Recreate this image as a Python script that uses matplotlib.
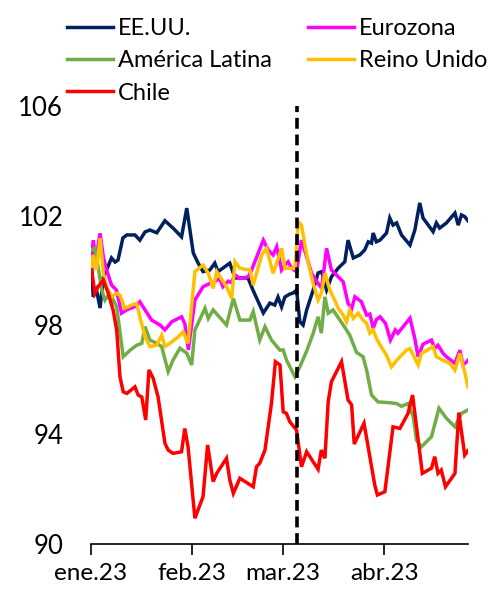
import numpy as np
import pandas as pd
import matplotlib
matplotlib.use("Agg")
import matplotlib.pyplot as plt

plt.rcParams["font.family"] = ["Lato", "DejaVu Sans"]

# Data: days since 2023-01-01 and index values
usa_days = [0.2, 0.7, 1.7, 2.8, 3.8, 4.8, 6.3, 7.4, 8.3, 9.8, 11, 13.5, 15, 16.6, 18.1, 20.2, 22.7, 25.2,
            27.8, 29.4, 31.4, 32.9, 34.4, 36.5, 38, 39, 42.6, 44.2, 48.2, 49.7, 50.8, 52.9, 54.9, 56.4,
            57.4, 58.5, 59.5, 61, 62.1, 63.1, 64.1, 65.1, 66.2, 68.2, 69.7, 70.8, 72.3, 73.8, 75.9, 77.9,
            78.9, 80.5, 82.5, 84, 85.1, 86.1, 86.6, 87.6, 88.7, 90.7, 91.7, 92.7, 93.8, 95.3, 97.9, 99.4,
            100.9, 101.9, 105, 106, 107, 109.1, 111.7, 112.7, 113.7, 114.7, 115.7]
usa_vals = [100.13, 99.03, 99.28, 98.62, 99.76, 100.01, 100.45, 100.30, 100.37, 101.18, 101.29, 101.29,
            101.10, 101.40, 101.47, 101.37, 101.81, 101.54, 101.22, 102.27, 100.63, 100.26, 99.95, 100.01,
            100.26, 99.95, 100.26, 99.72, 99.72, 99.28, 98.99, 98.44, 98.80, 98.73, 99.02, 98.66, 99.02,
            99.13, 99.17, 99.28, 98.12, 98.00, 98.55, 99.28, 99.90, 99.95, 99.28, 99.76, 100.08, 100.31,
            101.10, 100.45, 100.56, 100.74, 101.04, 100.99, 101.36, 101.04, 101.10, 101.36, 101.91, 101.65,
            101.73, 101.29, 100.92, 101.47, 102.46, 101.91, 101.41, 101.73, 101.54, 101.73, 102.09, 101.65,
            102.02, 101.96, 101.81]

eur_days = [0, 0.7, 1.5, 2.8, 3.8, 4.8, 6.3, 7.8, 9.4, 10.9, 13.5, 15, 16.6, 18.6, 21.2, 22.7, 24.8, 27.8,
            28.8, 29.9, 31.9, 34.4, 36.5, 37.5, 39.5, 40.5, 42.1, 43.1, 44.2, 45.7, 48.3, 49.3, 51.3, 52.9,
            54.4, 55.9, 57, 58.5, 59.5, 60.5, 61.6, 63.1, 64.6, 66.2, 67.7, 69.7, 70.8, 72.3, 73.8, 75.9,
            77.4, 78.9, 80, 81, 83, 84.6, 85.6, 86.6, 87.6, 88.7, 90.4, 91.9, 93.4, 94.2, 97.9, 99.4, 100.4,
            101.9, 104.5, 105.5, 106.5, 108.1, 109.1, 111.7, 113.2, 114.2, 115.7]
eur_vals = [100.2, 101.1, 100.4, 101.35, 100.49, 100.01, 99.46, 99.28, 98.43, 98.55, 98.67, 98.85, 98.55,
            98.18, 98.00, 97.82, 98.12, 98.30, 98.05, 97.09, 98.91, 99.40, 99.52, 99.55, 99.70, 99.40, 99.60,
            99.55, 99.83, 99.70, 99.76, 100.01, 100.62, 101.10, 100.74, 100.56, 100.86, 100.01, 100.19,
            100.31, 100.07, 99.95, 101.10, 100.49, 99.89, 99.52, 99.34, 100.80, 100.01, 99.76, 99.58, 98.79,
            98.60, 99.03, 98.85, 98.36, 98.40, 97.88, 98.20, 98.30, 98.06, 97.45, 97.82, 97.70, 98.25, 97.50,
            96.84, 97.30, 97.45, 97.14, 97.26, 96.96, 96.84, 96.60, 97.08, 96.53, 96.71]

lat_days = [0.2, 1.2, 2.1, 3.3, 4.3, 5.8, 7.9, 9.9, 12, 14, 15.6, 16.6, 18.1, 20.2, 21.7, 23.7, 25.2, 27.3,
            29.4, 30.9, 31.9, 35, 36, 37.5, 41.6, 43.7, 45.7, 48.8, 49.8, 51.8, 53.4, 55.4, 58, 59, 60,
            62.6, 64.1, 66.2, 68.2, 69.7, 70.7, 71.8, 72.8, 74.3, 76.4, 78.4, 79.4, 81.5, 83.5, 84.6, 86.1,
            88.1, 91.7, 93.8, 95.3, 97.3, 98.9, 99.9, 101.4, 104.5, 106.8, 109.1, 111.7, 113.7, 115.7]
lat_vals = [100.74, 100.80, 100.2, 99.28, 98.91, 99.16, 98.67, 96.84, 97.08, 97.26, 97.33, 97.94, 97.45,
            97.33, 97.21, 96.30, 96.72, 97.15, 96.97, 96.54, 97.82, 98.61, 98.24, 98.55, 98.00, 98.97, 98.18,
            98.18, 98.49, 97.45, 97.94, 97.45, 97.08, 97.09, 96.72, 96.11, 96.47, 97.05, 97.70, 98.30, 97.70,
            99.03, 98.43, 98.55, 98.18, 97.82, 97.63, 97.00, 96.84, 96.35, 95.44, 95.19, 95.16, 95.13, 95.03,
            95.13, 94.65, 93.80, 93.55, 93.92, 94.96, 94.59, 94.28, 94.77, 94.90]

uk_days = [0.2, 0.7, 1.7, 2.8, 3.8, 4.8, 6.3, 7.9, 8.9, 10.4, 12.5, 14, 15, 16.6, 18.1, 20.2, 21.7, 22.7,
           24.2, 26.8, 28.3, 29.8, 31.9, 34.4, 36, 37.5, 38.6, 41.6, 43.2, 44.2, 45.7, 48.8, 49.8, 52.4,
           53.9, 55.9, 58.5, 59.5, 62.6, 63.6, 64.6, 65.6, 66.7, 68.2, 69.7, 70.7, 71.8, 73.3, 74.8, 75.9,
           77.4, 78.4, 79.4, 80.5, 82, 83.5, 84.6, 85.6, 86.6, 87.6, 88.7, 90.7, 92.2, 93.8, 96.8, 97.9,
           100.4, 101.4, 105, 106, 108.1, 110.1, 111.7, 113.2, 114.7, 115.7]
uk_vals = [100.13, 100.56, 100.01, 101.17, 99.89, 99.40, 99.03, 99.16, 99.09, 98.61, 98.73, 98.79, 98.30,
           97.57, 97.21, 97.27, 97.63, 97.21, 97.33, 97.57, 97.75, 97.33, 99.95, 100.19, 99.89, 99.34, 99.95,
           99.40, 98.97, 100.31, 100.07, 100.01, 99.46, 100.56, 100.80, 99.89, 100.80, 100.07, 100.07,
           101.77, 101.65, 100.98, 100.25, 99.52, 98.91, 99.16, 99.89, 99.28, 98.91, 98.61, 98.36, 98.12,
           98.55, 98.24, 98.43, 98.18, 98.06, 97.70, 97.82, 97.51, 97.27, 96.90, 96.47, 96.71, 97.08, 97.14,
           96.54, 96.96, 97.21, 96.84, 96.71, 96.60, 96.35, 96.96, 96.29, 95.74]

chl_days = [0.2, 1.2, 2.2, 3.8, 5.3, 6.8, 7.9, 8.9, 9.9, 11, 13.5, 14.5, 15.6, 16.8, 17.8, 19.1, 20.6,
            22.7, 23.7, 25.2, 27.8, 28.8, 29.8, 31.9, 34.4, 35.8, 37.5, 38.6, 41.6, 42.6, 43.7, 45.7, 49.8,
            50.8, 51.8, 53.4, 55.4, 56.6, 58, 59, 60, 61, 63.1, 64.6, 66.2, 68.2, 69.7, 70.7, 71.8, 72.8,
            73.8, 76.9, 78.9, 80, 80.8, 83.8, 87.1, 87.9, 90.2, 92.7, 94.8, 97.3, 98.7, 101.7, 104.5, 105.5,
            106.5, 107.5, 108.8, 111.7, 112.9, 114.7, 116]
chl_vals = [100.01, 99.16, 99.40, 99.64, 99.16, 98.55, 97.82, 96.11, 95.56, 95.50, 95.74, 95.44, 95.37,
            94.53, 96.36, 96.05, 95.37, 93.68, 93.43, 93.31, 93.37, 94.22, 93.55, 90.94, 91.73, 93.62, 92.28,
            92.58, 93.13, 92.34, 91.85, 92.40, 92.09, 92.82, 92.95, 93.43, 95.14, 96.66, 96.54, 94.83, 94.77,
            94.47, 94.16, 92.82, 93.37, 93.00, 92.73, 93.43, 93.13, 95.19, 95.93, 96.66, 95.26, 95.08, 93.65,
            94.41, 92.15, 91.79, 91.91, 94.28, 94.22, 94.77, 95.44, 92.58, 92.77, 93.19, 92.58, 92.70, 92.09,
            92.58, 94.80, 93.25, 93.46]

event_day = 63.2  # dashed vertical marker (early March)
month_ticks = ["2023-01-01", "2023-02-01", "2023-03-01", "2023-04-01"]
month_labels = ["ene.23", "feb.23", "mar.23", "abr.23"]

base = pd.Timestamp("2023-01-01")


def to_dates(days):
    return base + pd.to_timedelta(np.array(days), unit="D")


series = [
    ("EE.UU.", usa_days, usa_vals, "#002060"),
    ("Eurozona", eur_days, eur_vals, "#FF00FF"),
    ("América Latina", lat_days, lat_vals, "#70AD47"),
    ("Reino Unido", uk_days, uk_vals, "#FFC000"),
    ("Chile", chl_days, chl_vals, "#FF0000"),
]

fig = plt.figure(figsize=(4.89, 5.94), dpi=100)
ax = fig.add_axes([0.186, 0.0842, 0.771, 0.7373])

lines = {}
for name, days, vals, color in series:
    (ln,) = ax.plot(to_dates(days), vals, color=color, lw=2.5, label=name, solid_joinstyle="miter")
    lines[name] = ln

ax.axvline(base + pd.Timedelta(days=event_day), color="black", lw=2.6, linestyle=(0, (3, 1.6)))

ax.set_ylim(90, 106)
ax.set_yticks([90, 94, 98, 102, 106])
ax.set_xlim(base, base + pd.Timedelta(days=115.7))
ax.set_xticks(pd.to_datetime(month_ticks))
ax.set_xticklabels(month_labels)

for s in ["top", "right", "left"]:
    ax.spines[s].set_visible(False)
ax.spines["bottom"].set_linewidth(1.2)
ax.tick_params(axis="y", length=0, labelsize=18.5, pad=20)
ax.tick_params(axis="x", length=8, width=1.2, direction="out", labelsize=17.5, pad=6)

order = ["EE.UU.", "América Latina", "Chile", "Eurozona", "Reino Unido"]
fig.legend([lines[n] for n in order], order, loc="upper left", bbox_to_anchor=(0.118, 0.985),
           ncol=2, frameon=False, fontsize=17, handlelength=1.95, handletextpad=0.2,
           columnspacing=1.55, labelspacing=0.47, borderaxespad=0.0)

fig.savefig("out.png", dpi=100)
